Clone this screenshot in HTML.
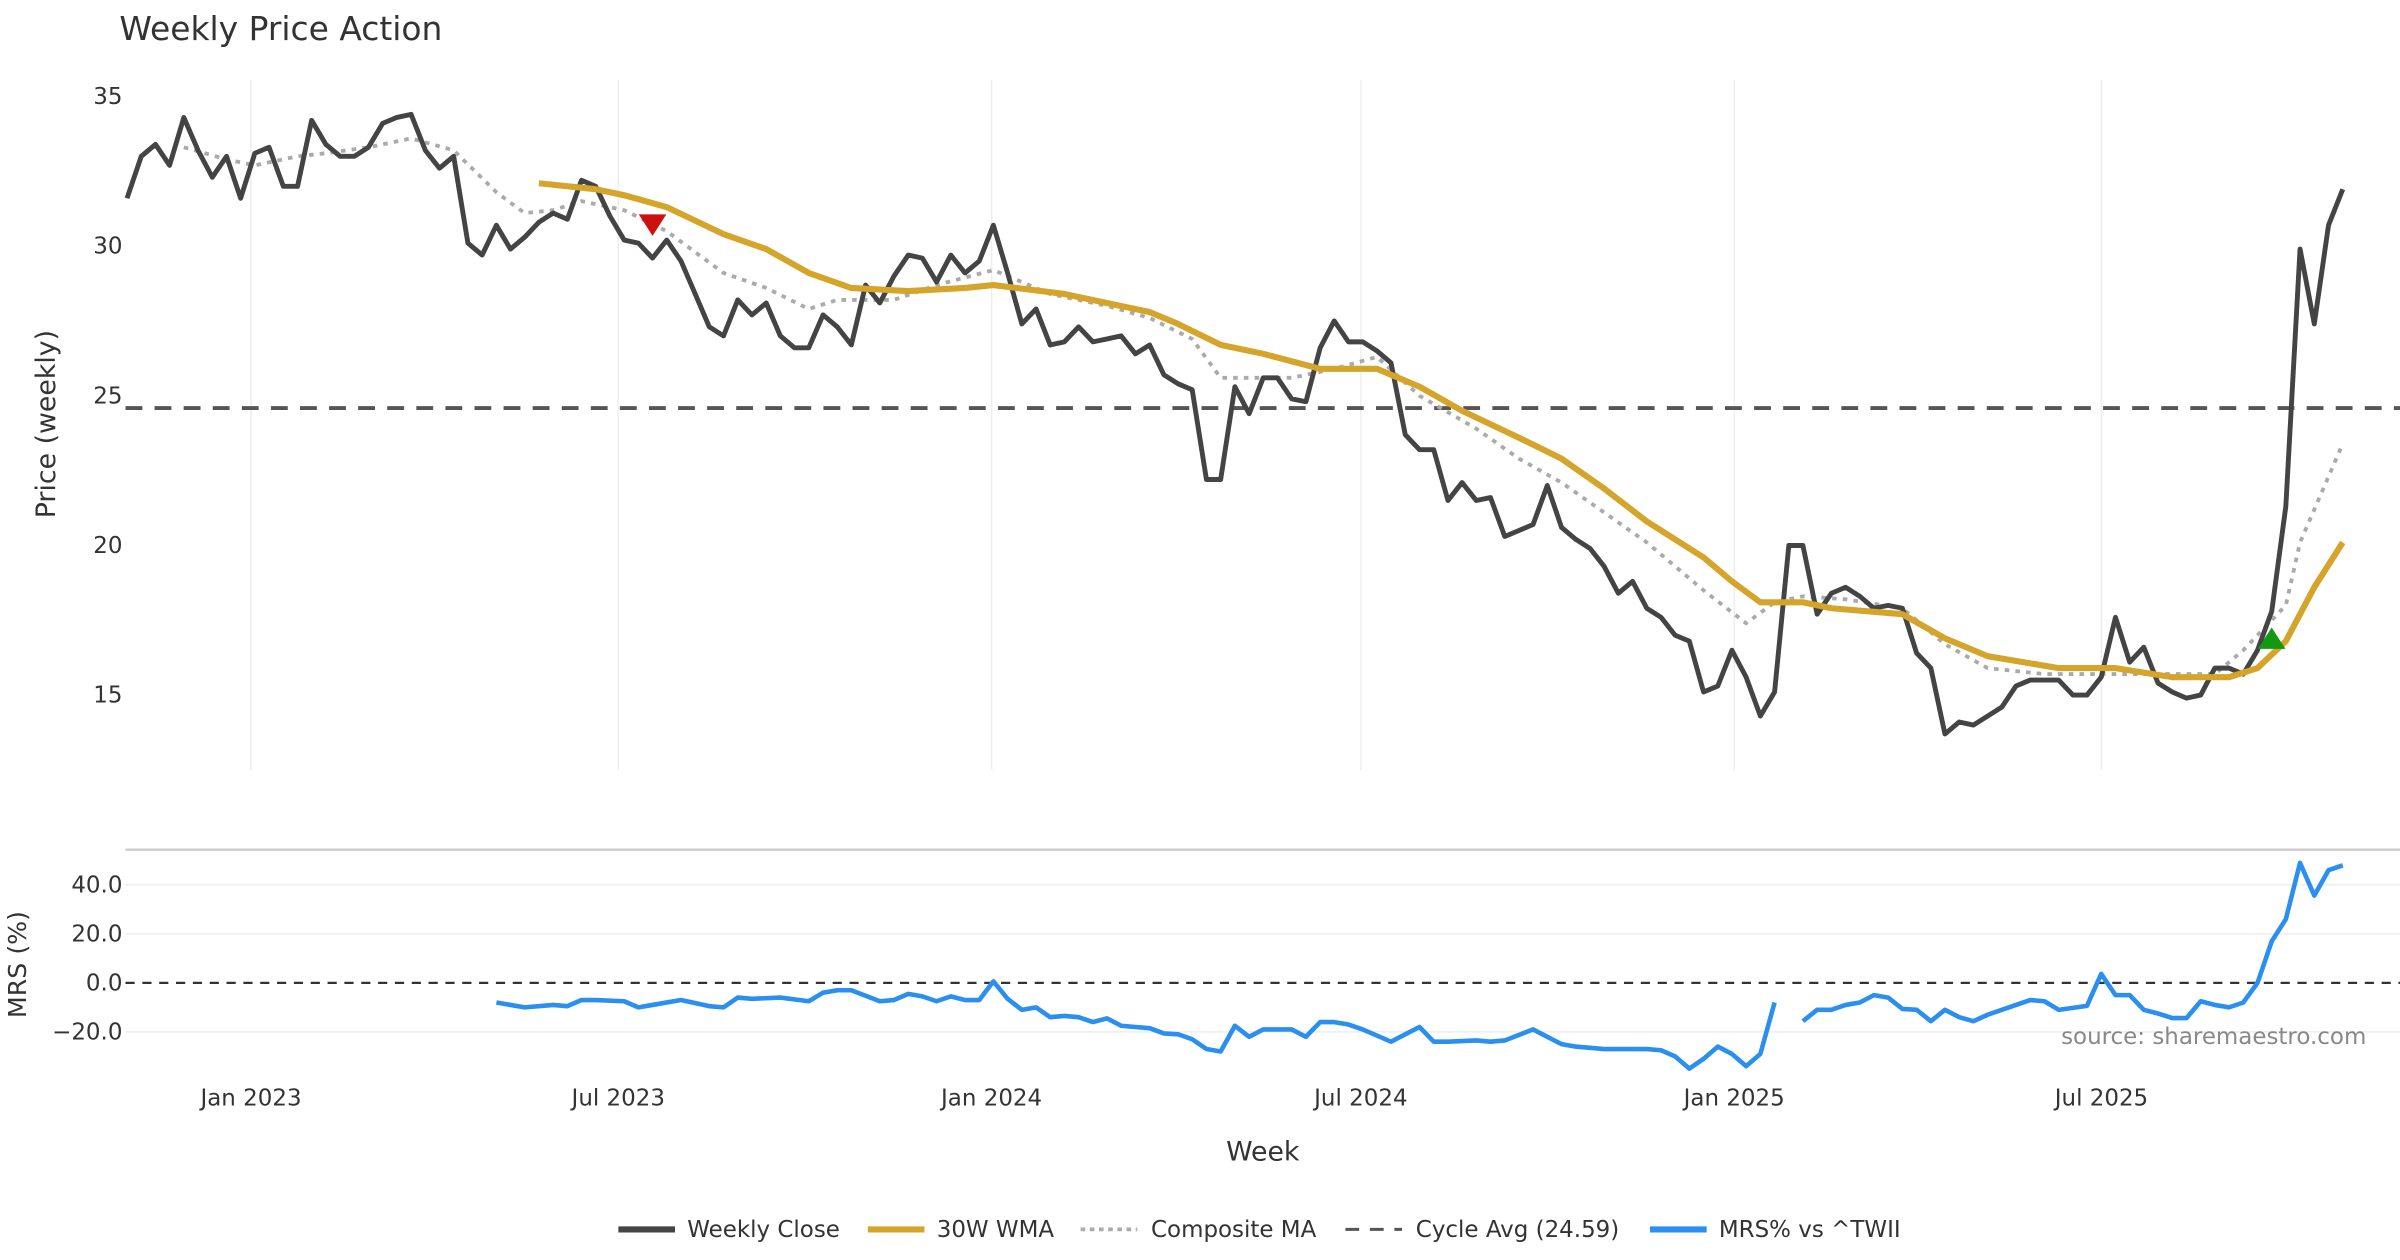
<!DOCTYPE html>
<html><head><meta charset="utf-8"><style>
html,body{margin:0;padding:0;background:#fff;}
svg{display:block;font-family:"DejaVu Sans","Liberation Sans",sans-serif;}
</style></head><body>
<svg id="chart" width="2400" height="1260" viewBox="0 0 1568 823" preserveAspectRatio="none" xmlns="http://www.w3.org/2000/svg">
<text x="78" y="26" font-size="21.5" fill="#333">Weekly Price Action</text>
<g id="grid"></g>
<g id="series"></g>
<text transform="translate(36,277) rotate(-90)" text-anchor="middle" font-size="17.5" fill="#333">Price (weekly)</text>
<text transform="translate(17,630) rotate(-90)" text-anchor="middle" font-size="16.5" fill="#333">MRS (%)</text>
<text x="825" y="758" text-anchor="middle" font-size="17.5" fill="#333">Week</text>
<text x="1546" y="682" text-anchor="end" font-size="15" fill="#888">source: sharemaestro.com</text>
<g font-size="15" fill="#333">
 <g><line x1="404" y1="803" x2="441" y2="803" stroke="#444" stroke-width="4"/><text x="449" y="808">Weekly Close</text></g>
 <g><line x1="567" y1="803" x2="604" y2="803" stroke="#d4a52a" stroke-width="4"/><text x="612" y="808">30W WMA</text></g>
 <g><line x1="706" y1="803" x2="743" y2="803" stroke="#aaa" stroke-width="2.5" stroke-dasharray="3,3"/><text x="752" y="808">Composite MA</text></g>
 <g><line x1="879" y1="803" x2="916" y2="803" stroke="#555" stroke-width="2" stroke-dasharray="9,7"/><text x="925" y="808">Cycle Avg (24.59)</text></g>
 <g><line x1="1078" y1="803" x2="1115" y2="803" stroke="#2b8ff0" stroke-width="4"/><text x="1123" y="808">MRS% vs ^TWII</text></g>
</g>
</svg>
<script>
const closeVals=[31.6,33.0,33.4,32.7,34.3,33.2,32.3,33.0,31.6,33.1,
33.3,32.0,32.0,34.2,33.4,33.0,33.0,33.3,34.1,34.3,
34.4,33.2,32.6,33.0,30.1,29.7,30.7,29.9,30.3,30.8,
31.1,30.9,32.2,32.0,31.0,30.2,30.1,29.6,30.2,29.5,
28.4,27.3,27.0,28.2,27.7,28.1,27.0,26.6,26.6,27.7,
27.3,26.7,28.7,28.1,29.0,29.7,29.6,28.8,29.7,29.1,
29.5,30.7,29.1,27.4,27.9,26.7,26.8,27.3,26.8,26.9,
27.0,26.4,26.7,25.7,25.4,25.2,22.2,22.2,25.3,24.4,
25.6,25.6,24.9,24.8,26.6,27.5,26.8,26.8,26.5,26.1,
23.7,23.2,23.2,21.5,22.1,21.5,21.6,20.3,20.5,20.7,
22.0,20.6,20.2,19.9,19.3,18.4,18.8,17.9,17.6,17.0,
16.8,15.1,15.3,16.5,15.6,14.3,15.1,20.0,20.0,17.7,
18.4,18.6,18.3,17.9,18.0,17.9,16.4,15.9,13.7,14.1,
14.0,14.3,14.6,15.3,15.5,15.5,15.5,15.0,15.0,15.6,
17.6,16.1,16.6,15.4,15.1,14.9,15.0,15.9,15.9,15.7,
16.5,17.8,21.3,29.9,27.4,30.7,31.9];
const wmaWeeks=[29,33,35,38,42,45,48,51,55,59,61,66,72,74,77,80,84,88,91,94,98,101,104,107,111,113,115,118,120,125,128,131,136,140,144,148,150,152,153,154,156];
const wmaVals=[32.1,31.9,31.7,31.3,30.4,29.9,29.1,28.6,28.5,28.6,28.7,28.4,27.8,27.4,26.7,26.4,25.9,25.9,25.3,24.5,23.6,22.9,21.9,20.8,19.6,18.8,18.1,18.1,17.9,17.7,16.9,16.3,15.9,15.9,15.6,15.6,15.9,16.8,17.7,18.6,20.1];
const compWeeks=[4,7,9,12,14,17,20,23,26,28,30,32,35,38,42,45,48,50,54,57,61,65,69,72,75,77,82,85,88,91,95,98,101,104,107,111,114,116,118,121,125,128,131,135,140,144,147,149,152,153,156];
const compVals=[33.3,32.9,32.7,33.0,33.1,33.3,33.6,33.2,31.8,31.1,31.2,31.5,31.2,30.5,29.1,28.6,27.9,28.2,28.2,28.7,29.2,28.4,28.0,27.6,26.9,25.6,25.6,25.9,26.3,25.0,23.9,22.9,22.1,21.1,20.1,18.5,17.4,18.1,18.3,18.2,17.9,16.7,15.9,15.7,15.7,15.7,15.7,16.5,18.0,20.1,23.4];
const mrsWeeks=[26,28,30,31,32,33,35,36,37,39,41,42,43,44,46,48,49,50,51,53,54,55,56,57,58,59,60,61,62,63,64,65,66,67,68,69,70,71,72,73,74,75,76,77,78,79,80,82,83,84,85,86,87,89,90,91,92,93,95,96,97,99,100,101,102,104,105,107,108,109,110,111,112,113,114,115,116,117,118,119,120,121,122,123,124,125,126,127,128,129,130,131,132,133,134,135,136,138,139,140,141,142,143,144,145,146,147,148,149,150,151,152,153,154,155,156];
const mrsVals=[-8,-10,-9,-9.5,-7,-7,-7.5,-10,-9,-7,-9.5,-10,-6,-6.5,-6,-7.5,-4,-3,-3,-7.5,-7,-4.5,-5.5,-7.5,-5.5,-7,-7,0.6,-6.5,-11,-10,-14,-13.5,-14,-16,-14.5,-17.5,-18,-18.5,-20.6,-21,-23,-27,-28,-17.5,-22,-19,-19,-22,-16,-16,-17,-19,-24,-21,-18,-24,-24,-23.5,-24,-23.5,-19,-22,-25,-26,-27,-27,-27,-27.5,-30,-35,-31,-26,-29,-34,-29,-8,null,-15.6,-11,-11,-9,-8,-5,-6,-10.6,-11,-15.6,-11,-14,-15.6,-13,-11,-9,-7,-7.5,-11,-9.4,3.7,-5,-5,-11,-12.5,-14.4,-14.4,-7.5,-9,-10,-8,0,17,26,49,35.6,46,48];
const priceTicks=[15,20,25,30,35];
const mrsTicks=[-20,0,20,40];
const mrsTickLabels=["\u221220.0","0.0","20.0","40.0"];
const dateTicks=["2023-01-01","2023-07-01","2024-01-01","2024-07-01","2025-01-01","2025-07-01"];
const dateTickLabels=["Jan 2023","Jul 2023","Jan 2024","Jul 2024","Jan 2025","Jul 2025"];
const cycleAvg=24.59;
const sellSignal={week:37,price:30.7};
const buySignal={week:151,price:16.9};

const NS="http://www.w3.org/2000/svg";
const PXDAY=1.3256, X0=164, D0=Date.UTC(2023,0,1);
function xDate(s){const d=new Date(s+"T00:00:00Z");return X0+(d-D0)/86400000*PXDAY;}
function xW(i){return 83+i*7*PXDAY;}
function yP(v){return 63+(35-v)*19.55;}
function yM(v){return 642-v*1.6;}
function mk(tag,attrs,parent){const e=document.createElementNS(NS,tag);for(const k in attrs)e.setAttribute(k,attrs[k]);parent.appendChild(e);return e;}
const grid=document.getElementById('grid'), ser=document.getElementById('series');

dateTicks.forEach((d,i)=>{
 const x=xDate(d);
 const g=mk('line',{x1:x,x2:x,y1:52,y2:503,stroke:'#eceef2','stroke-width':1},grid);
 
 
 const t=mk('text',{x:x,y:722,'text-anchor':'middle','font-size':15,fill:'#333'},grid);
 t.textContent=dateTickLabels[i];
 
 
});
priceTicks.forEach(v=>{
 const t=mk('text',{x:80,y:yP(v)+5,'text-anchor':'end','font-size':15,fill:'#333'},grid);
 t.textContent=v;
 
 
});
const border=mk('line',{x1:82,x2:1568,y1:555,y2:555,stroke:'#ccc','stroke-width':1.5},grid);


mrsTicks.forEach((v,i)=>{
 if(v!==0){const l=mk('line',{x1:82,x2:1568,y1:yM(v),y2:yM(v),stroke:'#eceef2','stroke-width':1},grid);
  
  }
 const t=mk('text',{x:80,y:yM(v)+5,'text-anchor':'end','font-size':15,fill:'#333'},grid);
 t.textContent=mrsTickLabels[i];
 
 
});
const zl=mk('line',{x1:82,x2:1568,y1:yM(0),y2:yM(0),stroke:'#333','stroke-width':1.5,'stroke-dasharray':'6,5'},grid);


const cl=mk('line',{x1:82,x2:1568,y1:yP(cycleAvg),y2:yP(cycleAvg),stroke:'#555','stroke-width':2.5,'stroke-dasharray':'11,8'},ser);



function pathFrom(xs,ys){let d='',pen=false;for(let i=0;i<xs.length;i++){if(ys[i]===null){pen=false;continue;}d+=(pen?'L':'M')+xs[i].toFixed(1)+','+ys[i].toFixed(1);pen=true;}return d;}
const comp=mk('path',{d:pathFrom(compWeeks.map(xW),compVals.map(yP)),fill:'none',stroke:'#aaa','stroke-width':2.5,'stroke-dasharray':'3,4','stroke-linejoin':'round'},ser);


const cls=mk('path',{d:pathFrom(closeVals.map((v,i)=>xW(i)),closeVals.map(yP)),fill:'none',stroke:'#444','stroke-width':3.2,'stroke-linejoin':'round'},ser);


const wma=mk('path',{d:pathFrom(wmaWeeks.map(xW),wmaVals.map(yP)),fill:'none',stroke:'#d4a52a','stroke-width':4,'stroke-linejoin':'round'},ser);


const mrs=mk('path',{d:pathFrom(mrsWeeks.map(xW),mrsVals.map(v=>v===null?null:yM(v))),fill:'none',stroke:'#2b8ff0','stroke-width':3,'stroke-linejoin':'round'},ser);


const sx=xW(sellSignal.week), sy=yP(sellSignal.price);
const sell=mk('path',{d:`M${sx-9},${sy-7}L${sx+9},${sy-7}L${sx},${sy+7}Z`,fill:'#cc1111'},ser);


const bx=xW(buySignal.week), by=yP(buySignal.price);
const buy=mk('path',{d:`M${bx-9},${by+7}L${bx+9},${by+7}L${bx},${by-7}Z`,fill:'#119911'},ser);


</script>
</body></html>
